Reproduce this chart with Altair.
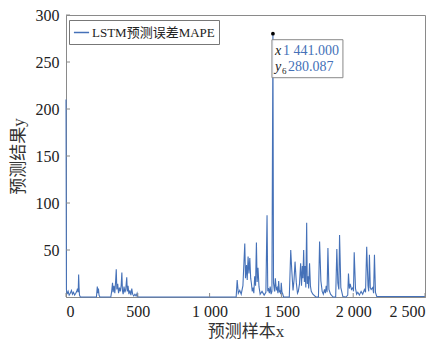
import altair as alt
import pandas as pd

# ---- data ----
x_idx = [0, 3, 8, 15, 22, 30, 38, 45, 52, 60, 68, 75, 80, 85, 88, 91, 94, 100,
         212, 218, 222, 226, 230, 236,
         312, 318, 324, 328, 334, 340, 346, 350, 354, 360, 366, 372, 378, 384, 389, 393,
         398, 404, 410, 416, 423, 427, 432, 438, 445, 452, 458, 464, 472, 480, 488, 495, 500,
         1185, 1192, 1200, 1210, 1220, 1232, 1245, 1250, 1257, 1262, 1268, 1274, 1280, 1286,
         1291, 1297, 1303, 1308, 1314, 1320, 1326, 1331, 1337, 1344, 1352, 1365, 1380, 1392,
         1400, 1405, 1410, 1416, 1422, 1428, 1434, 1441, 1445, 1452, 1458, 1464, 1470, 1476,
         1481, 1486, 1490, 1495, 1499, 1504, 1508, 1515,
         1555, 1565, 1572, 1581, 1588, 1595, 1604, 1612, 1618, 1626, 1634, 1640, 1646, 1650,
         1655, 1660, 1664, 1670, 1676, 1680, 1685, 1690, 1696, 1702, 1708, 1719, 1740, 1758,
         1766, 1775, 1784, 1792, 1800, 1806, 1812, 1818, 1824, 1831, 1842, 1860, 1878,
         1886, 1893, 1900, 1905, 1914, 1928, 1950, 1962, 1967, 1973, 1979, 1988, 1998, 2002,
         2007, 2016, 2024, 2032, 2043, 2055, 2066, 2078, 2086, 2094, 2103, 2108, 2113, 2119,
         2125, 2136, 2142, 2148, 2155, 2164, 2500]
y_val = [210, 8, 3, 6, 2, 4, 7, 3, 5, 2, 4, 6, 9, 5, 24, 10, 2, 0,
         0, 11, 4, 9, 2, 0,
         0, 6, 15, 5, 12, 4, 18, 29.5, 8, 14, 4, 10, 6, 12, 26, 7,
         3, 11, 5, 8, 21, 6, 12, 3, 7, 2, 9, 3, 1, 3, 1, 4, 0,
         0, 18, 4, 7, 3, 12, 57, 20, 34, 18, 43, 25, 41.5, 20,
         14.6, 6, 10, 4, 22, 12, 58, 16, 31, 11, 3, 6, 2, 5,
         87, 6, 9.5, 4, 11, 3, 6, 280.087, 15, 6, 20, 8, 10, 4,
         17, 5, 7, 3, 15, 5, 4, 0,
         0, 50, 29, 7, 18, 37.6, 15, 4, 6, 14, 36, 12, 33, 20,
         50, 16, 33, 10, 79, 14, 22, 9, 36, 12, 6, 3, 0, 0,
         59, 17, 6, 3, 8, 4, 12, 5, 52, 8, 3, 0, 0,
         51, 15, 8, 66, 10, 0.5, 0, 2, 25, 9, 14, 8, 10, 6,
         47.5, 9, 3, 5, 2, 6, 3, 8, 5, 53.5, 12, 6, 45, 10,
         8, 10, 4, 45, 5, 0.5, 0.5]

series_name = "LSTM预测误差MAPE"
x_ticks = [0, 500, 1000, 1500, 2000, 2500]
y_ticks = [50, 100, 150, 200, 250, 300]
mark_x = [1441]
mark_y = [280.087]
mark_x_text = ["1 441.000"]
mark_y_text = ["280.087"]

df = pd.DataFrame({"x": x_idx, "y": y_val, "s": series_name})
df_xt = pd.DataFrame({"x": x_ticks})
df_yt = pd.DataFrame({"y": y_ticks})
df_m = pd.DataFrame({"x": mark_x, "y": mark_y, "xs": mark_x_text, "ys": mark_y_text})

SERIF = "Liberation Serif, Times New Roman, Noto Sans CJK SC, serif"
BLUE = "#4571b8"
FRAME = "#8a8a8a"

xs = alt.Scale(domain=[0, 2500], nice=False, zero=False)
ys = alt.Scale(domain=[0, 300], nice=False, zero=False)
x_axis = alt.Axis(values=x_ticks, title="预测样本x", grid=False, tickSize=0,
                  labelPadding=6, titlePadding=4,
                  labelFont=SERIF, labelFontSize=16, labelColor="#222222",
                  titleFont=SERIF, titleFontSize=17, titleFontWeight="normal",
                  titleColor="#333333",
                  labelExpr="replace(format(datum.value, ','), ',', ' ')")
y_axis = alt.Axis(values=y_ticks, title="预测结果y", grid=False, tickSize=0,
                  labelPadding=7, titlePadding=8,
                  labelFont=SERIF, labelFontSize=16, labelColor="#222222",
                  titleFont=SERIF, titleFontSize=17, titleFontWeight="normal",
                  titleColor="#333333")
X = alt.X("x:Q", scale=xs, axis=x_axis)
Y = alt.Y("y:Q", scale=ys, axis=y_axis)

line = alt.Chart(df).mark_line(strokeWidth=1.1).encode(
    x=X, y=Y,
    color=alt.Color("s:N", scale=alt.Scale(range=[BLUE]),
                    legend=alt.Legend(orient="none", legendX=3, legendY=5, title=None,
                                      strokeColor="#777777", fillColor="white", padding=4,
                                      symbolType="stroke", symbolSize=230,
                                      symbolStrokeWidth=1.5, labelFont=SERIF,
                                      labelFontSize=13, labelColor="#222222",
                                      labelOffset=2)),
)

xtick = alt.Chart(df_xt).mark_rule(color=FRAME, strokeWidth=1).encode(
    x=X, y=alt.value(282), y2=alt.value(278))
ytick = alt.Chart(df_yt).mark_rule(color=FRAME, strokeWidth=1).encode(
    y=Y, x=alt.value(0), x2=alt.value(4))

base_m = alt.Chart(df_m)
box = base_m.mark_rect(fill="white", fillOpacity=0.9, stroke="#888888", strokeWidth=1,
                       xOffset=-1, x2Offset=70, yOffset=6, y2Offset=44).encode(
    x=X, x2="x:Q", y=Y, y2="y:Q")
dot = base_m.mark_point(filled=True, color="black", size=14, opacity=1).encode(x=X, y=Y)
tx = base_m.mark_text(text="x", font=SERIF, fontStyle="italic", fontSize=14,
                      color="#222222", align="left", baseline="middle", dx=2, dy=17).encode(
    x=X, y=Y)
tv1 = base_m.mark_text(font=SERIF, fontSize=14, color=BLUE, align="left",
                       baseline="middle", dx=10, dy=17).encode(x=X, y=Y, text="xs:N")
ty = base_m.mark_text(text="y", font=SERIF, fontStyle="italic", fontSize=14,
                      color="#222222", align="left", baseline="middle", dx=2, dy=33).encode(
    x=X, y=Y)
t6 = base_m.mark_text(text="6", font=SERIF, fontSize=9,
                      color="#222222", align="left", baseline="middle", dx=9, dy=37).encode(
    x=X, y=Y)
tv2 = base_m.mark_text(font=SERIF, fontSize=14, color=BLUE, align="left",
                       baseline="middle", dx=15, dy=33).encode(x=X, y=Y, text="ys:N")

chart = alt.layer(line, xtick, ytick, box, dot, tx, tv1, ty, t6, tv2).properties(
    width=359, height=282,
    autosize=alt.AutoSizeParams(type="none"),
    padding={"left": 66, "top": 15, "right": 21, "bottom": 46},
    background="white",
).configure_view(stroke=FRAME, strokeWidth=1).configure_axis(
    domainColor=FRAME, domainWidth=1,
)

chart.save("out.html", embed_options={"renderer": "svg", "actions": False})
